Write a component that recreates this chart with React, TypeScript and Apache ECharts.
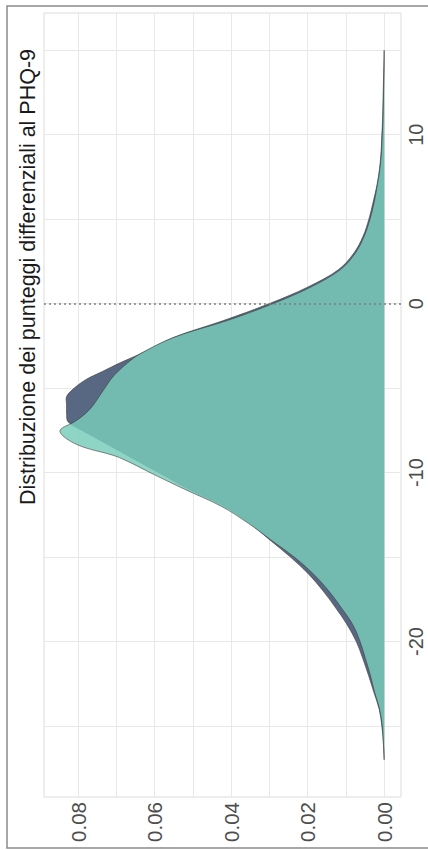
import React, { useEffect, useRef } from "react";
import * as echarts from "echarts";

const scores = [-27, -26, -25, -24, -23, -22, -21, -20, -19, -18, -17, -16, -15, -14, -13, -12, -11, -10, -9.5, -9, -8.5, -8, -7.5, -7, -6.5, -6, -5.5, -5, -4.5, -4, -3.5, -3, -2, -1, 0, 1, 2, 3, 4, 5, 6, 7, 8, 9, 10, 11, 12, 13, 14, 15];

const densityA = [0.0, 0.0002, 0.0006, 0.0013, 0.0027, 0.0041, 0.0056, 0.0073, 0.0097, 0.0127, 0.016, 0.0198, 0.0245, 0.0298, 0.0352, 0.0418, 0.051, 0.059, 0.063, 0.067, 0.071, 0.075, 0.079, 0.0826, 0.083, 0.083, 0.083, 0.081, 0.078, 0.0735, 0.069, 0.064, 0.055, 0.042, 0.03, 0.0198, 0.012, 0.0079, 0.0055, 0.004, 0.0029, 0.0019, 0.0012, 0.0008, 0.0006, 0.0004, 0.0003, 0.0002, 0.0001, 0.0];

const densityB = [0.0, 0.0002, 0.0005, 0.0012, 0.0025, 0.0036, 0.0049, 0.0063, 0.0082, 0.0112, 0.0145, 0.0185, 0.0235, 0.0295, 0.0355, 0.0425, 0.052, 0.0612, 0.0655, 0.0705, 0.0785, 0.083, 0.0847, 0.081, 0.078, 0.076, 0.0745, 0.073, 0.0715, 0.0695, 0.067, 0.064, 0.055, 0.041, 0.029, 0.019, 0.0115, 0.0075, 0.0052, 0.0037, 0.0026, 0.0018, 0.0011, 0.0007, 0.0005, 0.0003, 0.0002, 0.0001, 0.0, 0.0];

const densityTicks = [0, 0.01, 0.02, 0.03, 0.04, 0.05, 0.06, 0.07, 0.08];
const densityLabels = [0, 0.02, 0.04, 0.06, 0.08];
const scoreTicks = [-25, -20, -15, -10, -5, 0, 5, 10, 15];
const scoreLabels = [-20, -10, 0, 10];

const title = "Distribuzione dei punteggi differenziali al PHQ-9";

function densitySeries(name: string, vals: number[], fill: string) {
  return {
    type: "custom",
    name,
    silent: true,
    z: 2,
    data: [[0, 0]],
    renderItem: (_params: any, api: any) => {
      const pts = vals.map((v, i) => api.coord([v, scores[i]]));
      const b0 = api.coord([0, scores[0]]);
      const b1 = api.coord([0, scores[scores.length - 1]]);
      return {
        type: "group",
        children: [
          {
            type: "polygon",
            shape: { points: [b0, ...pts, b1], smooth: 0.35 },
            style: { fill, stroke: "none" },
          },
          {
            type: "polyline",
            shape: { points: pts, smooth: 0.35 },
            style: { fill: "none", stroke: "#3d3d3d", lineWidth: 0.6 },
          },
        ],
      };
    },
  };
}

export default function App() {
  const ref = useRef<HTMLDivElement>(null);
  useEffect(() => {
    if (!ref.current) return;
    const chart = echarts.init(ref.current, null, { renderer: "svg" });
    chart.setOption({
      animation: false,
      backgroundColor: "#ffffff",
      grid: {
        left: 44,
        right: 27,
        top: 13,
        bottom: 53,
        show: true,
        borderColor: "#dcdcdc",
        borderWidth: 1,
      },
      xAxis: {
        type: "value",
        inverse: true,
        min: -0.0044,
        max: 0.0889,
        position: "bottom",
        axisLine: { show: false },
        axisTick: { show: false, customValues: densityTicks },
        splitLine: { show: true, lineStyle: { color: "#e8e8e8", width: 1 } },
        axisLabel: {
          customValues: densityLabels,
          rotate: 90,
          margin: 5,
          fontSize: 20.5,
          color: "#4d4d4d",
          fontFamily: "Liberation Sans, Arial, sans-serif",
          formatter: (v: number) => v.toFixed(2),
        },
      },
      yAxis: {
        type: "value",
        min: -29.2,
        max: 17.2,
        position: "right",
        axisLine: { show: false },
        axisTick: { show: false, customValues: scoreTicks },
        splitLine: { show: true, lineStyle: { color: "#e8e8e8", width: 1 } },
        axisLabel: {
          customValues: scoreLabels,
          rotate: 90,
          margin: 5,
          fontSize: 20,
          color: "#4d4d4d",
          fontFamily: "Liberation Sans, Arial, sans-serif",
          formatter: (v: number) => String(v),
        },
      },
      graphic: [
        {
          type: "rect",
          shape: { x: 7, y: 6, width: 440, height: 842 },
          style: { fill: "none", stroke: "#8a8a8a", lineWidth: 1.5 },
          silent: true,
          z: 100,
        },
        {
          type: "text",
          x: 28,
          y: 277,
          rotation: Math.PI / 2,
          style: {
            text: title,
            fontSize: 21.5,
            fontFamily: "Liberation Sans, Arial, sans-serif",
            fill: "#1a1a1a",
            textAlign: "center",
            textVerticalAlign: "middle",
          },
          silent: true,
        },
      ],
      series: [
        densitySeries("A", densityA, "#586782"),
        densitySeries("B", densityB, "rgba(120,205,185,0.83)"),
        {
          type: "line",
          name: "zero",
          data: [],
          silent: true,
          z: 10,
          markLine: {
            silent: true,
            z: 10,
            symbol: "none",
            label: { show: false },
            lineStyle: { color: "#7f7f7f", type: [2, 3], width: 1.5 },
            data: [{ yAxis: 0 }],
          },
        },
      ],
    });
    return () => chart.dispose();
  }, []);
  return (
    <div
      ref={ref}
      style={{ position: "fixed", left: 0, top: 0, width: 428, height: 850 }}
    />
  );
}
